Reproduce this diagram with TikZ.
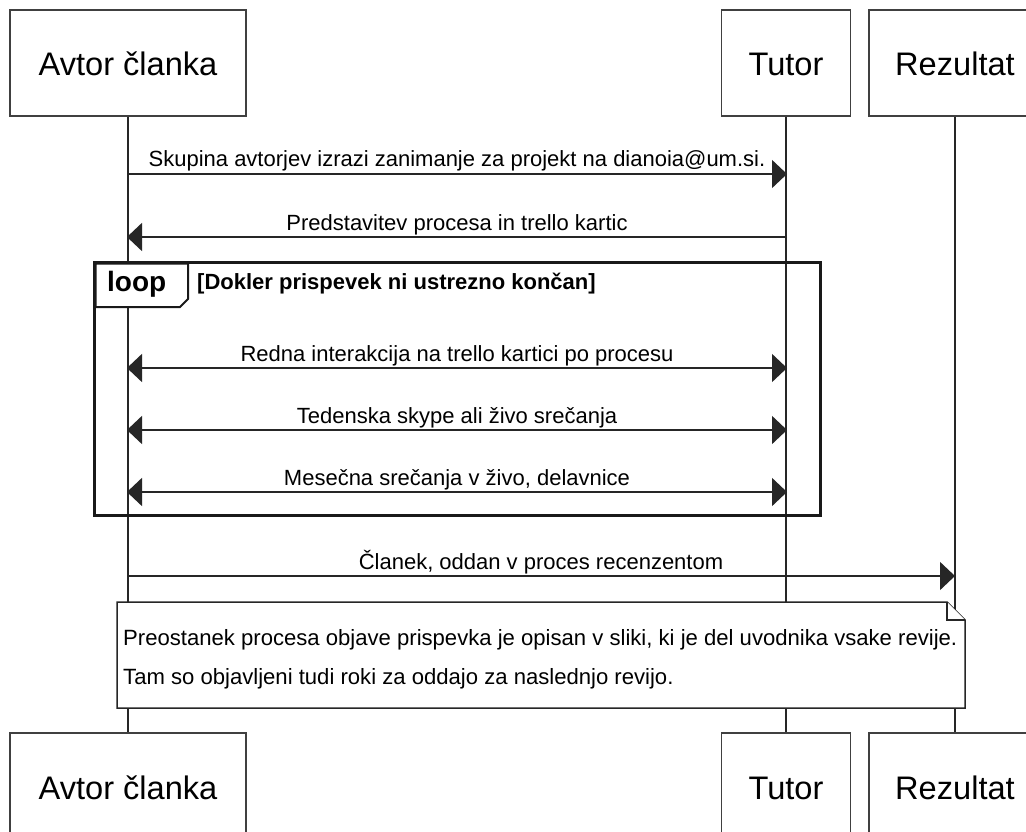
\documentclass[tikz,border=0pt]{standalone}
\usepackage{fontspec}
\setmainfont{Liberation Sans}
\usetikzlibrary{arrows.meta}
\begin{document}
\begin{tikzpicture}[x=1pt,y=-1pt,
  part/.style={draw=black!75, line width=1.5pt, fill=white, minimum height=106pt,
    inner sep=0pt, text height=26pt, text depth=0pt, font=\fontsize{32.6}{38}\selectfont},
  life/.style={draw=black!85, line width=1.5pt},
  tip/.tip={Triangle[length=15pt,width=28pt]},
  msg/.style={draw=black!85, line width=1.5pt, -tip},
  bimsg/.style={draw=black!85, line width=1.5pt, tip-tip},
  lbl/.style={font=\fontsize{22}{26}\selectfont, anchor=base, inner sep=0pt},
  notetext/.style={font=\fontsize{22.1}{26}\selectfont, anchor=base west, inner sep=0pt},
  frame/.style={draw=black!90, line width=3pt},
]
\useasboundingbox (0,0) rectangle (1026,832);
\clip (0,0) rectangle (1026,832);
\fill[white] (0,0) rectangle (1026,832);

% participants
\node[part, minimum width=236pt] (avT) at (128,63) {Avtor članka};
\node[part, minimum width=129pt] (tuT) at (786,63) {Tutor};
\node[part, minimum width=172pt] (reT) at (955,63) {Rezultat};
\node[part, minimum width=236pt] (avB) at (128,786) {Avtor članka};
\node[part, minimum width=129pt] (tuB) at (786,786) {Tutor};
\node[part, minimum width=172pt] (reB) at (955,786) {Rezultat};

% lifelines
\draw[life] (avT.south) -- (avB.north);
\draw[life] (tuT.south) -- (tuB.north);
\draw[life] (reT.south) -- (reB.north);

% message anchor points
\coordinate (a1) at (127,174); \coordinate (t1) at (787,174);
\coordinate (a2) at (127,237); \coordinate (t2) at (787,237);
\coordinate (a3) at (127,368); \coordinate (t3) at (787,368);
\coordinate (a4) at (127,430); \coordinate (t4) at (787,430);
\coordinate (a5) at (127,492); \coordinate (t5) at (787,492);
\coordinate (a6) at (127,576); \coordinate (r6) at (955,576);

\draw[msg] (a1) -- (t1);
\node[lbl] (m1) at (457,167) {Skupina avtorjev izrazi zanimanje za projekt na dianoia@um.si.};
\draw[msg] (t2) -- (a2);
\node[lbl] (m2) at (457,230) {Predstavitev procesa in trello kartic};

% loop frame
\draw[frame] (94,262) rectangle (820,515);
\draw[line width=2pt, draw=black!90, fill=white] (95.5,263.5) -- (188,263.5) -- (188,299) -- (180,307) -- (95.5,307) -- cycle;
\draw[frame] (94,262) -- (820,262);
\draw[frame] (94,262) -- (94,515);
\node[font=\bfseries\fontsize{28}{32}\selectfont, anchor=base west, inner sep=0pt] (loopl) at (107,291) {loop};
\node[font=\bfseries\fontsize{22}{26}\selectfont, anchor=base west, inner sep=0pt] (guard) at (197,289) {[Dokler prispevek ni ustrezno končan]};

\draw[bimsg] (a3) -- (t3);
\node[lbl] (m3) at (457,361) {Redna interakcija na trello kartici po procesu};
\draw[bimsg] (a4) -- (t4);
\node[lbl] (m4) at (457,423) {Tedenska skype ali živo srečanja};
\draw[bimsg] (a5) -- (t5);
\node[lbl] (m5) at (457,485) {Mesečna srečanja v živo, delavnice};

\draw[msg] (a6) -- (r6);
\node[lbl] (m6) at (541,569) {Članek, oddan v proces recenzentom};

% note
\draw[draw=black!85, line width=1.5pt, fill=white]
  (117,602) -- (947,602) -- (965,620) -- (965,708) -- (117,708) -- cycle;
\draw[draw=black!85, line width=1.5pt, fill=white] (947,602) -- (947,620) -- (965,620);
\node[notetext] (n1) at (123,645)
  {Preostanek procesa objave prispevka je opisan v sliki, ki je del uvodnika vsake revije.};
\node[notetext] (n2) at (123,684)
  {Tam so objavljeni tudi roki za oddajo za naslednjo revijo.};
\end{tikzpicture}
\end{document}
